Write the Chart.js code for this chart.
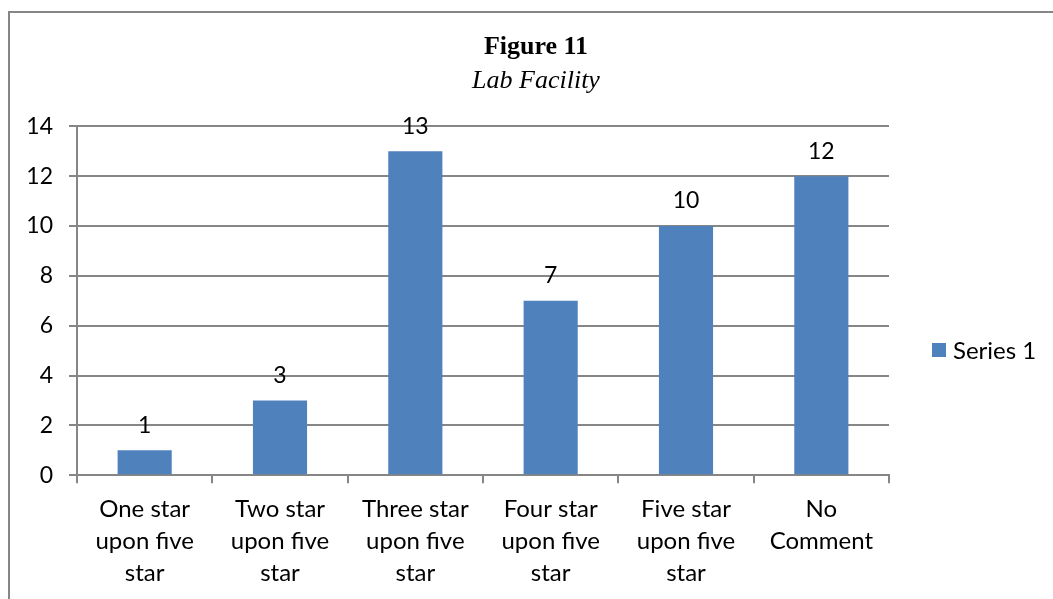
<!DOCTYPE html>
<html><head><meta charset="utf-8">
<script src="https://cdn.jsdelivr.net/npm/chart.js@4"></script>
<style>
html,body{margin:0;padding:0;background:#fff;}
#wrap{position:relative;width:1053px;height:599px;overflow:hidden;}
#frame{position:absolute;left:8px;top:11px;width:1100px;height:700px;border-left:2px solid #868686;border-top:2px solid #868686;box-sizing:border-box;}
canvas{position:absolute;left:0;top:0;}
</style></head>
<body><div id="wrap"><div id="frame"></div><canvas id="c" width="1053" height="599"></canvas></div>
<script>
const categories = [
  ["One star","upon five","star"],
  ["Two star","upon five","star"],
  ["Three star","upon five","star"],
  ["Four star","upon five","star"],
  ["Five star","upon five","star"],
  ["No","Comment"]
];
const seriesName = "Series 1";
const seriesValues = [1, 3, 13, 7, 10, 12];
const yTicks = [0, 2, 4, 6, 8, 10, 12, 14];
const titleText = "Figure 11";
const subtitleText = "Lab Facility";

const FONT = "Lato";
const barColor = "#4F81BD";
const gridColor = "#868686";

const dataLabels = {
  id: 'dataLabels',
  afterDatasetsDraw(chart) {
    const ctx = chart.ctx;
    ctx.save();
    ctx.font = "23px " + FONT;
    ctx.fillStyle = "#000";
    ctx.textAlign = "center";
    ctx.textBaseline = "middle";
    chart.getDatasetMeta(0).data.forEach((bar, i) => {
      ctx.fillText(String(chart.data.datasets[0].data[i]), bar.x, bar.y - 25);
    });
    ctx.restore();
  }
};

const sideLegend = {
  id: 'sideLegend',
  afterDraw(chart) {
    const ctx = chart.ctx;
    const ds = chart.data.datasets[0];
    ctx.save();
    const x = chart.chartArea.right + 43;
    const y = 350;
    ctx.fillStyle = ds.backgroundColor;
    ctx.fillRect(x, y - 7, 14, 14);
    ctx.fillStyle = "#000";
    ctx.font = "24px " + FONT;
    ctx.textAlign = "left";
    ctx.textBaseline = "middle";
    ctx.fillText(ds.label, x + 21, y + 1);
    ctx.restore();
  }
};

new Chart(document.getElementById('c'), {
  type: 'bar',
  data: {
    labels: categories,
    datasets: [{
      label: seriesName,
      data: seriesValues,
      backgroundColor: barColor,
      categoryPercentage: 1.0,
      barPercentage: 0.4,
      yAxisID: 'y'
    }]
  },
  options: {
    responsive: false,
    animation: false,
    events: [],
    layout: { padding: { left: 19, right: 0, top: 32, bottom: 0 } },
    plugins: {
      legend: { display: false },
      tooltip: { enabled: false },
      title: {
        display: true, text: titleText, color: "#000",
        font: { family: "Liberation Serif", size: 26, weight: "bold", lineHeight: 1.2 },
        padding: { top: 0, bottom: 2 }
      },
      subtitle: {
        display: true, text: subtitleText, color: "#000",
        font: { family: "Liberation Serif", size: 26, style: "italic", lineHeight: 1.2 },
        padding: { top: 0, bottom: 30 }
      }
    },
    scales: {
      x: {
        grid: { display: true, drawOnChartArea: false, drawTicks: true, tickLength: 8, color: gridColor, lineWidth: 2, offset: true },
        border: { display: true, color: gridColor, width: 2 },
        ticks: { color: "#000", font: { family: FONT, size: 24, lineHeight: 1.33 }, padding: 10, maxRotation: 0, autoSkip: false }
      },
      y: {
        min: 0, max: 14,
        afterBuildTicks(scale) { scale.ticks = yTicks.map(v => ({ value: v })); },
        afterFit(scale) { scale.width = 58; },
        grid: { color: gridColor, lineWidth: 2, tickLength: 8 },
        border: { display: true, color: gridColor, width: 2 },
        ticks: { color: "#000", font: { family: FONT, size: 23 }, padding: 16 }
      },
      yR: {
        type: 'linear', position: 'right', display: true,
        grid: { display: false, drawTicks: false },
        border: { display: false },
        ticks: { display: false },
        afterFit(scale) { scale.width = 164; }
      }
    }
  },
  plugins: [dataLabels, sideLegend]
});
</script></body></html>
